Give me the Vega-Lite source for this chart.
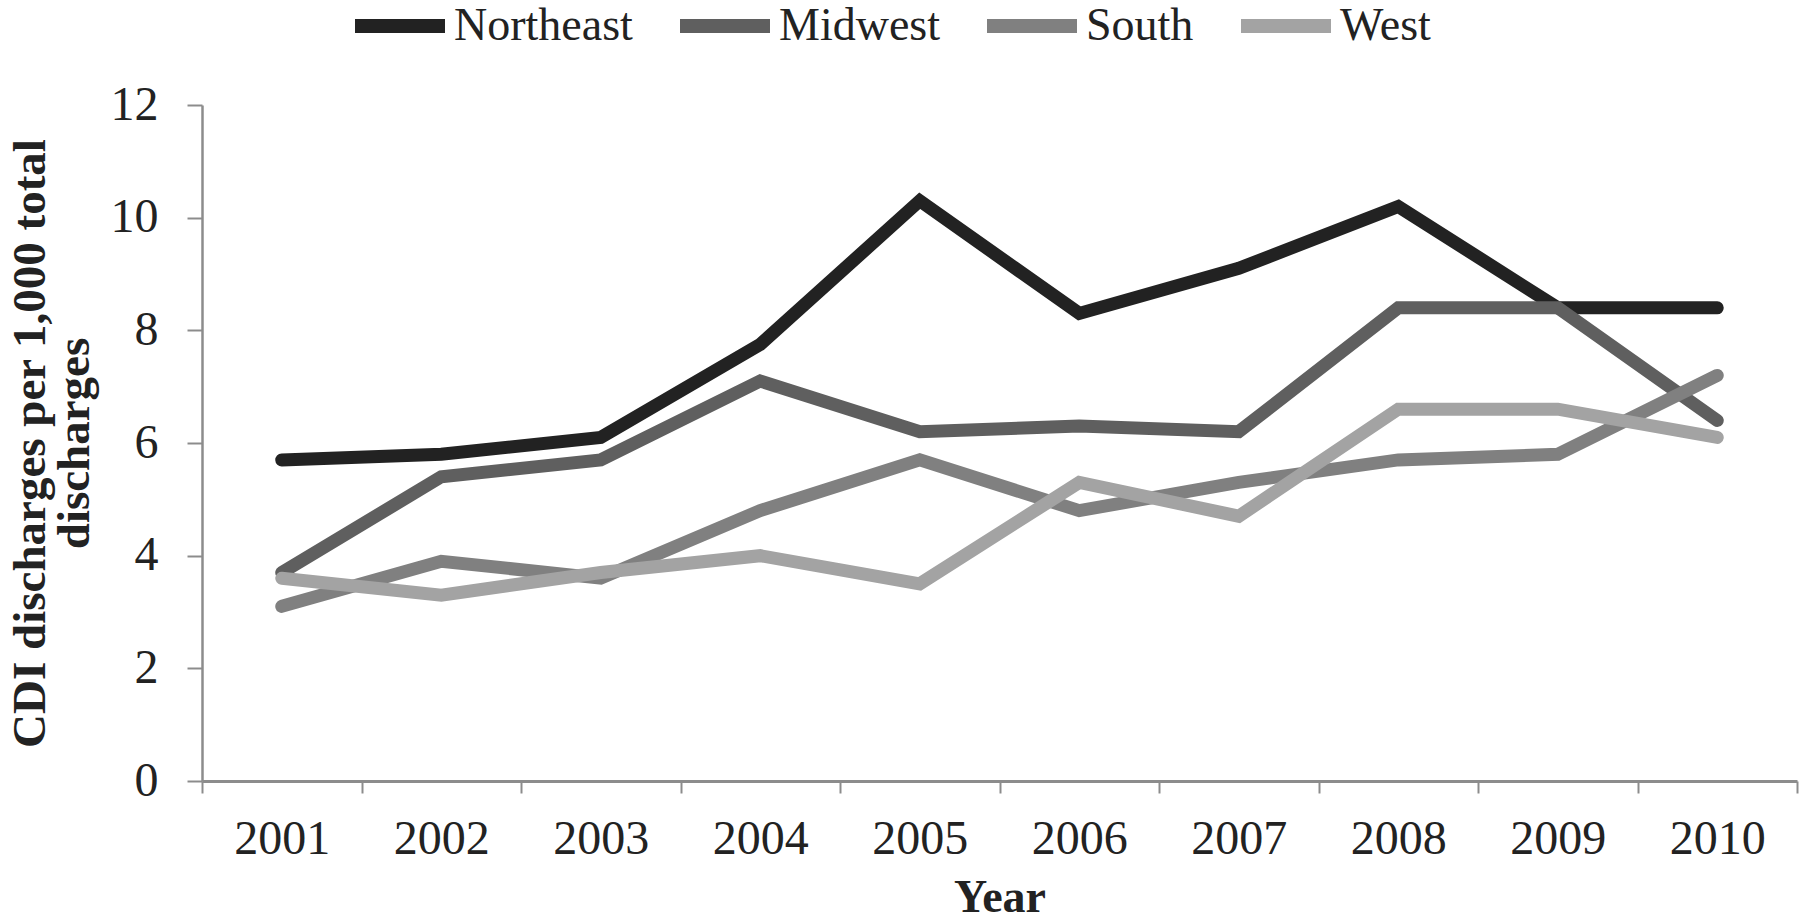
{
  "$schema": "https://vega.github.io/schema/vega-lite/v6.json",
  "autosize": {"type": "none"},
  "width": 1595,
  "height": 676,
  "padding": {"left": 202, "top": 105, "right": 3, "bottom": 142},
  "background": "white",
  "config": {
    "view": {"stroke": null},
    "font": "Liberation Serif"
  },
  "data": {
    "values": [
      {"year": "2001", "region": "Northeast", "value": 5.7},
      {"year": "2002", "region": "Northeast", "value": 5.8},
      {"year": "2003", "region": "Northeast", "value": 6.1},
      {"year": "2004", "region": "Northeast", "value": 7.75},
      {"year": "2005", "region": "Northeast", "value": 10.3},
      {"year": "2006", "region": "Northeast", "value": 8.3},
      {"year": "2007", "region": "Northeast", "value": 9.1},
      {"year": "2008", "region": "Northeast", "value": 10.2},
      {"year": "2009", "region": "Northeast", "value": 8.4},
      {"year": "2010", "region": "Northeast", "value": 8.4},
      {"year": "2001", "region": "Midwest", "value": 3.7},
      {"year": "2002", "region": "Midwest", "value": 5.4},
      {"year": "2003", "region": "Midwest", "value": 5.7},
      {"year": "2004", "region": "Midwest", "value": 7.1},
      {"year": "2005", "region": "Midwest", "value": 6.2},
      {"year": "2006", "region": "Midwest", "value": 6.3},
      {"year": "2007", "region": "Midwest", "value": 6.2},
      {"year": "2008", "region": "Midwest", "value": 8.4},
      {"year": "2009", "region": "Midwest", "value": 8.4},
      {"year": "2010", "region": "Midwest", "value": 6.4},
      {"year": "2001", "region": "South", "value": 3.1},
      {"year": "2002", "region": "South", "value": 3.9},
      {"year": "2003", "region": "South", "value": 3.6},
      {"year": "2004", "region": "South", "value": 4.8},
      {"year": "2005", "region": "South", "value": 5.7},
      {"year": "2006", "region": "South", "value": 4.8},
      {"year": "2007", "region": "South", "value": 5.3},
      {"year": "2008", "region": "South", "value": 5.7},
      {"year": "2009", "region": "South", "value": 5.8},
      {"year": "2010", "region": "South", "value": 7.2},
      {"year": "2001", "region": "West", "value": 3.6},
      {"year": "2002", "region": "West", "value": 3.3},
      {"year": "2003", "region": "West", "value": 3.7},
      {"year": "2004", "region": "West", "value": 4.0},
      {"year": "2005", "region": "West", "value": 3.5},
      {"year": "2006", "region": "West", "value": 5.3},
      {"year": "2007", "region": "West", "value": 4.7},
      {"year": "2008", "region": "West", "value": 6.6},
      {"year": "2009", "region": "West", "value": 6.6},
      {"year": "2010", "region": "West", "value": 6.1}
    ]
  },
  "mark": {"type": "line", "strokeWidth": 13, "strokeJoin": "miter", "strokeCap": "round"},
  "encoding": {
    "x": {
      "field": "year",
      "type": "ordinal",
      "scale": {"paddingInner": 0, "paddingOuter": 0},
      "axis": {
        "title": "Year",
        "titleFont": "Liberation Serif",
        "titleFontSize": 46,
        "titleFontWeight": "bold",
        "titleColor": "#222222",
        "titlePadding": 12,
        "labelFont": "Liberation Serif",
        "labelFontSize": 48,
        "labelColor": "#222222",
        "labelAngle": 0,
        "labelPadding": 22,
        "tickBand": "extent",
        "tickSize": 12,
        "tickColor": "#8c8c8c",
        "tickWidth": 2,
        "domainColor": "#8c8c8c",
        "domainWidth": 3,
        "grid": false
      }
    },
    "y": {
      "field": "value",
      "type": "quantitative",
      "scale": {"domain": [0, 12], "nice": false},
      "axis": {
        "title": ["CDI discharges per 1,000 total", "discharges"],
        "titleFont": "Liberation Serif",
        "titleFontSize": 47,
        "titleFontWeight": "bold",
        "titleColor": "#222222",
        "titleLineHeight": 44,
        "titlePadding": 12,
        "labelFont": "Liberation Serif",
        "labelFontSize": 48,
        "labelColor": "#222222",
        "labelPadding": 29,
        "values": [0, 2, 4, 6, 8, 10, 12],
        "tickSize": 15,
        "tickColor": "#8c8c8c",
        "tickWidth": 2,
        "domainColor": "#8c8c8c",
        "domainWidth": 2.5,
        "grid": false
      }
    },
    "color": {
      "field": "region",
      "type": "nominal",
      "sort": ["Northeast", "Midwest", "South", "West"],
      "scale": {
        "domain": ["Northeast", "Midwest", "South", "West"],
        "range": ["#222222", "#5f5f5f", "#808080", "#a3a3a3"]
      },
      "legend": {
        "title": null,
        "orient": "none",
        "direction": "horizontal",
        "legendX": 146,
        "legendY": -131,
        "symbolType": "stroke",
        "symbolSize": 8100,
        "symbolStrokeWidth": 14,
        "labelFont": "Liberation Serif",
        "labelFontSize": 46,
        "labelLimit": 500,
        "labelColor": "#222222",
        "labelOffset": 2,
        "columnPadding": 19
      }
    }
  }
}
